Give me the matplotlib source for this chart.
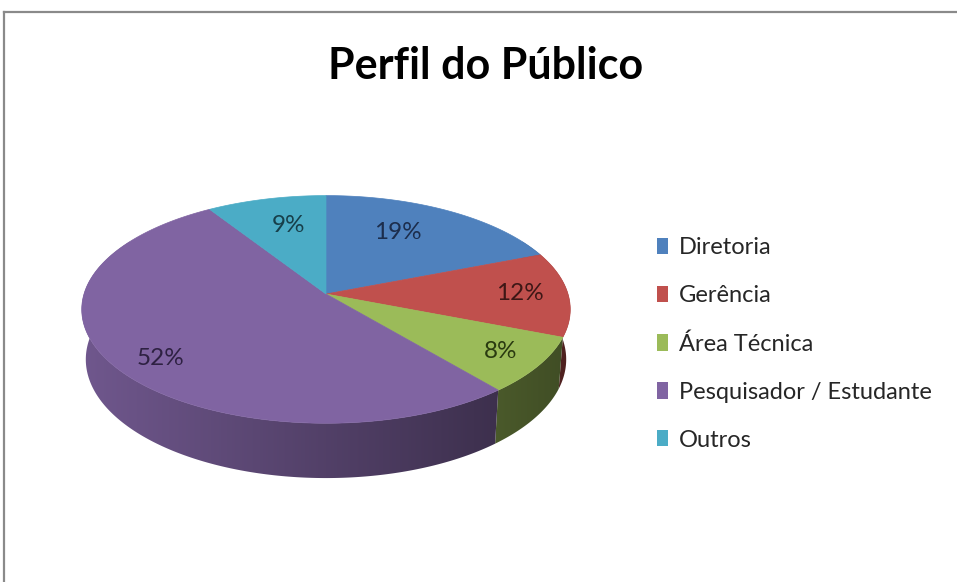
import numpy as np
import matplotlib
matplotlib.use("Agg")
import matplotlib.pyplot as plt
from matplotlib.patches import Polygon, Patch
from matplotlib.lines import Line2D
from matplotlib.colors import to_rgb

# ---------------- data ----------------
title = "Perfil do Público"
categories = ["Diretoria", "Gerência", "Área Técnica", "Pesquisador / Estudante", "Outros"]
values = [19, 12, 8, 52, 9]
colors = ["#4F81BD", "#C0504D", "#9BBB59", "#8064A2", "#4BACC6"]
label_colors = ["#1c2d4c", "#3d1716", "#2a3a10", "#2e2142", "#173f4a"]

# ---------------- layout / style ----------------
W, H = 957, 582
CX, CY, R = 326, 294, 242          # pixel centre & radius of the pie
TILT = np.deg2rad(27.5)
DIST = 6.55
DEPTH = 0.235
LABEL_R = [0.675, 0.80, 0.83, 0.83, 0.686]
LABEL_DA = [-6.0, 0.0, -0.5, -4.0, 2.0]   # degrees
FONT = "Lato"

s, c = np.sin(TILT), np.cos(TILT)


def proj(u, v, z):
    f = DIST / (DIST + v * c - z * s)
    return u * f, (v * s + z * c) * f


fig = plt.figure(figsize=(W / 100, H / 100), dpi=100)
fig.patch.set_facecolor("white")
ax = fig.add_axes([0, 0, 1, 1])
XL = ((0 - CX) / R, (W - CX) / R)
YL = (-(H - CY) / R, CY / R)
ax.axis("off")

vals = np.array(values, dtype=float)
fr = vals / vals.sum()
starts = np.concatenate([[0], np.cumsum(fr)[:-1]]) * 2 * np.pi
ends = np.cumsum(fr) * 2 * np.pi

# ---- side walls with horizontal shading gradient ----
lo, hi = np.deg2rad(60), np.deg2rad(300)
xs = np.linspace(-1.05, 1.05, 400)
shade = 0.64 - 0.23 * xs
for i in range(len(vals)):
    a0, a1 = max(starts[i], lo), min(ends[i], hi)
    if a1 <= a0:
        continue
    angs = np.linspace(a0, a1, 200)
    top = [proj(np.sin(a), np.cos(a), 0) for a in angs]
    bot = [proj(np.sin(a), np.cos(a), -DEPTH) for a in angs[::-1]]
    poly = Polygon(top + bot, closed=True, transform=ax.transData,
                   facecolor="none", edgecolor="none")
    base = np.array(to_rgb(colors[i]))
    grad = np.clip(shade[None, :, None] * base[None, None, :], 0, 1)
    grad = np.repeat(grad, 2, axis=0)
    im = ax.imshow(grad, extent=[xs[0], xs[-1], -1.5, 1.5], origin="lower",
                   aspect="auto", interpolation="bilinear", zorder=1)
    im.set_clip_path(poly)

# ---- top faces ----
for i in range(len(vals)):
    angs = np.linspace(starts[i], ends[i], 200)
    pts = [proj(0, 0, 0)] + [proj(np.sin(a), np.cos(a), 0) for a in angs]
    ax.add_patch(Polygon(pts, closed=True, facecolor=colors[i], edgecolor=colors[i],
                         lw=0.5, zorder=2))

# ---- labels ----
for i in range(len(vals)):
    mid = 0.5 * (starts[i] + ends[i]) + np.deg2rad(LABEL_DA[i])
    x, y = proj(LABEL_R[i] * np.sin(mid), LABEL_R[i] * np.cos(mid), 0)
    ax.text(x, y, f"{values[i]:.0f}%", ha="center", va="center", fontsize=17.5,
            family=FONT, color=label_colors[i], zorder=3)

ax.set_xlim(*XL)
ax.set_ylim(*YL)

# ---- title ----
fig.text(486 / W, 1 - 79 / H, title, ha="center", va="baseline", fontsize=31,
         fontweight="bold", family=FONT, color="black")

# ---- legend ----
handles = [Patch(facecolor=col, edgecolor="none") for col in colors]
leg = fig.legend(handles, categories, loc="center left",
                 bbox_to_anchor=(657 / W, 1 - 344 / H), frameon=False,
                 prop={"family": FONT, "size": 17}, handlelength=0.47,
                 handleheight=0.68, handletextpad=0.45, labelspacing=1.14,
                 borderaxespad=0, borderpad=0)
for t in leg.get_texts():
    t.set_color("#262626")

# ---- frame lines (top and left) ----
fig.add_artist(Line2D([4 / W, 1], [1 - 12 / H, 1 - 12 / H], transform=fig.transFigure,
                      color="#8a8a8a", lw=1.6))
fig.add_artist(Line2D([4 / W, 4 / W], [0, 1 - 12 / H], transform=fig.transFigure,
                      color="#8a8a8a", lw=1.6))

fig.savefig("out.png", dpi=100, facecolor="white")
